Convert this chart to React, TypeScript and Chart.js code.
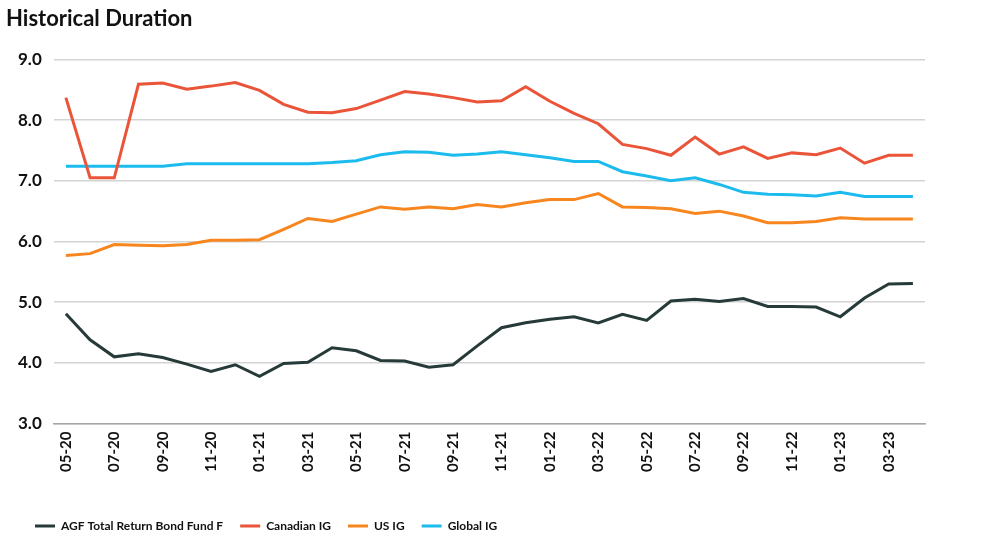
import React, { useEffect, useRef } from "react";
import { Chart, registerables } from "chart.js";

Chart.register(...registerables);

const months = [
  "05-20", "06-20", "07-20", "08-20", "09-20", "10-20", "11-20", "12-20",
  "01-21", "02-21", "03-21", "04-21", "05-21", "06-21", "07-21", "08-21",
  "09-21", "10-21", "11-21", "12-21", "01-22", "02-22", "03-22", "04-22",
  "05-22", "06-22", "07-22", "08-22", "09-22", "10-22", "11-22", "12-22",
  "01-23", "02-23", "03-23", "04-23",
];

const agfFund = [
  4.81, 4.38, 4.10, 4.15, 4.09, 3.98, 3.86, 3.97, 3.78, 3.99, 4.01, 4.25,
  4.20, 4.04, 4.03, 3.93, 3.97, 4.28, 4.58, 4.66, 4.72, 4.76, 4.66, 4.80,
  4.70, 5.02, 5.05, 5.01, 5.06, 4.93, 4.93, 4.92, 4.76, 5.07, 5.30, 5.31,
];

const canadianIG = [
  8.37, 7.05, 7.05, 8.59, 8.61, 8.51, 8.56, 8.62, 8.49, 8.26, 8.13, 8.12,
  8.19, 8.33, 8.47, 8.43, 8.37, 8.30, 8.32, 8.55, 8.31, 8.11, 7.94, 7.60,
  7.53, 7.42, 7.72, 7.44, 7.56, 7.37, 7.46, 7.43, 7.54, 7.29, 7.42, 7.42,
];

const usIG = [
  5.77, 5.80, 5.95, 5.94, 5.93, 5.95, 6.02, 6.02, 6.03, 6.20, 6.38, 6.33,
  6.45, 6.57, 6.53, 6.57, 6.54, 6.61, 6.57, 6.64, 6.69, 6.69, 6.79, 6.57,
  6.56, 6.54, 6.46, 6.50, 6.42, 6.31, 6.31, 6.33, 6.39, 6.37, 6.37, 6.37,
];

const globalIG = [
  7.24, 7.24, 7.24, 7.24, 7.24, 7.28, 7.28, 7.28, 7.28, 7.28, 7.28, 7.30,
  7.33, 7.43, 7.48, 7.47, 7.42, 7.44, 7.48, 7.43, 7.38, 7.32, 7.32, 7.15,
  7.08, 7.00, 7.05, 6.94, 6.81, 6.78, 6.77, 6.75, 6.81, 6.74, 6.74, 6.74,
];

const seriesNames = ["AGF Total Return Bond Fund F", "Canadian IG", "US IG", "Global IG"];
const seriesColors = ["#263B39", "#EA5539", "#F7861F", "#1CBBEE"];

const FONT = "Lato, 'Noto Sans', sans-serif";

export default function App() {
  const canvasRef = useRef<HTMLCanvasElement | null>(null);

  useEffect(() => {
    document.body.style.margin = "0";
    const canvas = canvasRef.current;
    if (!canvas) return;
    const seriesData = [agfFund, canadianIG, usIG, globalIG];
    const legendShift = {
      id: "legendShift",
      afterLayout(chart: any) {
        if (chart.legend) {
          chart.legend.left += 12;
          chart.legend.right += 12;
        }
      },
    };
    const chart = new Chart(canvas, {
      type: "line",
      data: {
        labels: months,
        datasets: seriesNames.map((name, i) => ({
          label: name,
          data: seriesData[i],
          borderColor: seriesColors[i],
          backgroundColor: seriesColors[i],
          borderWidth: 3,
          pointRadius: 0,
          pointHoverRadius: 0,
          tension: 0,
          fill: false,
        })),
      },
      options: {
        animation: false,
        responsive: false,
        maintainAspectRatio: false,
        layout: { padding: { left: 6, right: 75, top: 0, bottom: 8 } },
        plugins: {
          title: {
            display: true,
            text: "Historical Duration",
            align: "start",
            color: "#111",
            font: { family: FONT, size: 22, weight: "bold" },
            padding: { top: 6, bottom: 27 },
          },
          legend: {
            position: "bottom",
            align: "start",
            labels: {
              usePointStyle: true,
              pointStyle: "line",
              pointStyleWidth: 20,
              boxWidth: 20,
              boxHeight: 12,
              padding: 17,
              color: "#111",
              font: { family: FONT, size: 12, weight: "bold" },
            },
          },
          tooltip: { enabled: false },
        },
        scales: {
          x: {
            offset: true,
            grid: { display: false, drawTicks: false },
            border: { display: true, color: "#a6a6a6", width: 1.5 },
            afterFit: (scale: any) => {
              scale.height += 23;
            },
            ticks: {
              autoSkip: false,
              maxRotation: 90,
              minRotation: 90,
              padding: 8,
              color: "#111",
              font: { family: FONT, size: 15, weight: "bold" },
              callback: (_v: any, idx: number) => (idx % 2 === 0 ? months[idx] : null),
            },
          },
          y: {
            min: 3,
            max: 9,
            grid: { color: "#d3d3d3", lineWidth: 1.5, drawTicks: false },
            border: { display: false },
            ticks: {
              stepSize: 1,
              padding: 12,
              color: "#111",
              font: { family: FONT, size: 17, weight: "bold" },
              callback: (v: any) => Number(v).toFixed(1),
            },
          },
        },
      },
      plugins: [legendShift],
    });
    return () => chart.destroy();
  }, []);

  return (
    <div style={{ width: 1000, height: 550, position: "relative" }}>
      <canvas ref={canvasRef} width={1000} height={550} style={{ display: "block" }} />
    </div>
  );
}
